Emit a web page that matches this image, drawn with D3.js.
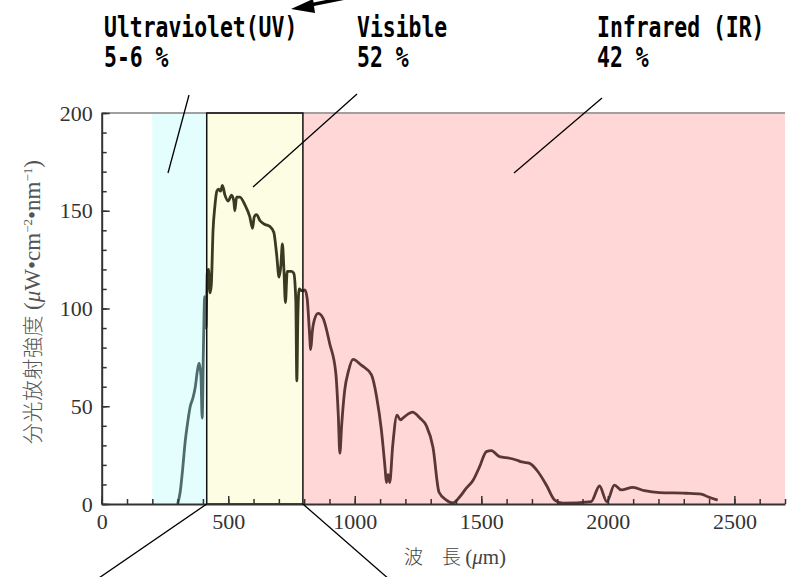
<!DOCTYPE html>
<html>
<head>
<meta charset="utf-8">
<script src="https://cdn.jsdelivr.net/npm/d3@7"></script>
<style>
  html, body { margin: 0; padding: 0; background: #fff; }
  svg { display: block; }
</style>
</head>
<body>
<svg id="chart" width="792" height="577"></svg>
<script>
// wavelength (x) and spectral irradiance (y)
const wavelength = [300,310,320,330,340,350,360,370,378,385,392,397,402,407,412,417,422,428,433,440,447,455,462,470,477,487,500,513,522,526,533,546,566,585,596,603,612,625,645,664,680,691,701,708,714,720,726,733,750,759,767,771,775,780,793,
  803,812,820,826,832,840,855,875,901,925,935,941,948,960,975,993,1026,1066,1086,1105,1120,1125,1132,1138,1150,1167,1180,1191,1210,1228,1257,1283,1309,1333,1362,1388,1415,1440,1467,1493,1520,1540,1572,1612,1638,1660,1691,1724,1757,1790,1822,1934,1967,1996,2026,2053,2099,2145,2204,2309,2369,2395,2434];
const irradiance = [0,6,18,32,42,50,54,60,68,72,66,44,80,106,90,118,120,108,112,140,152,160,161,160,163,158,155,158,155,150,157,157,153,147,141,147,148,145,143,142,139,128,116,122,133,120,103,119,119,118,104,63,95,110,109,
  109.5,105,90,79,88,94,97.5,95,82,67,45,26,40,58,68,74,71,66,55,38,18,11,15,11,30,45.5,43,44,46,47,44,40,29,6,2,0.5,3.7,8,12,19,26.8,27.3,24.2,23.4,22.5,21.5,20.8,16.5,9.7,2,0.4,1.2,9.2,1.2,9.7,7.2,8.5,6.8,5.8,5.5,5.1,3.7,2];

// spectral bands (wavelength ranges)
const bandNames  = ['UV', 'Visible', 'IR'];
const bandStart  = [200, 415, 795];
const bandEnd    = [415, 795, 2700];
const bandFill   = ['#e4fdfd', '#fdfde3', '#ffd7d7'];
const bandLine   = ['#4d6c6c', '#3a3a22', '#5a3636'];

// top annotation texts
const labelTitle = ['Ultraviolet(UV)', 'Visible', 'Infrared (IR)'];
const labelShare = ['5-6 %', '52 %', '42 %'];

const xMajor = [0, 500, 1000, 1500, 2000, 2500];
const yMajor = [0, 50, 100, 150, 200];

const svg = d3.select('#chart');
const X0 = 101.7, X1 = 785, Y0 = 504, Y1 = 113;

const x = d3.scaleLinear().domain([0, 2700]).range([X0, X1]);
const y = d3.scaleLinear().domain([0, 200]).range([Y0, Y1]);

// ── band rectangles ──────────────────────────────────────────────
const defs = svg.append('defs');
bandNames.forEach((b, i) => {
  defs.append('clipPath').attr('id', 'clip-' + b)
    .append('rect')
    .attr('x', x(bandStart[i])).attr('y', 0)
    .attr('width', x(bandEnd[i]) - x(bandStart[i])).attr('height', 577);
  svg.append('rect')
    .attr('x', x(bandStart[i])).attr('y', Y1)
    .attr('width', x(bandEnd[i]) - x(bandStart[i]))
    .attr('height', Y0 - Y1)
    .attr('fill', bandFill[i]);
});

// top frame line
svg.append('line')
  .attr('x1', X0).attr('x2', X1).attr('y1', Y1).attr('y2', Y1)
  .attr('stroke', '#a0a0a0').attr('stroke-width', 2);

// ── curve, coloured per band ─────────────────────────────────────
const pts = wavelength.map((w, i) => [w, irradiance[i]]);
const line = d3.line().x(d => x(d[0])).y(d => y(d[1])).curve(d3.curveMonotoneX);
bandNames.forEach((b, i) => {
  svg.append('path')
    .datum(pts)
    .attr('clip-path', `url(#clip-${b})`)
    .attr('fill', 'none')
    .attr('stroke', bandLine[i])
    .attr('stroke-width', 2.8)
    .attr('stroke-linejoin', 'round')
    .attr('d', line);
});

// visible box outline
svg.append('rect')
  .attr('x', x(bandStart[1])).attr('y', Y1)
  .attr('width', x(bandEnd[1]) - x(bandStart[1]))
  .attr('height', Y0 - Y1)
  .attr('fill', 'none').attr('stroke', '#111').attr('stroke-width', 1.5);

// ── axes ─────────────────────────────────────────────────────────
const axisStyle = g => {
  g.selectAll('path.domain').attr('stroke', '#333').attr('stroke-width', 2);
  g.selectAll('.tick line').attr('stroke', '#333').attr('stroke-width', 1.5);
  g.selectAll('text').attr('fill', '#333')
    .attr('font-family', '"Liberation Serif", "DejaVu Serif", serif')
    .attr('font-size', 22);
};

svg.append('g').attr('transform', `translate(0,${Y0})`)
  .call(d3.axisBottom(x).tickValues(d3.range(0, 2701, 100)).tickSize(-5).tickFormat('').tickSizeOuter(0))
  .call(axisStyle);
svg.append('g').attr('transform', `translate(0,${Y0})`)
  .call(d3.axisBottom(x).tickValues(xMajor).tickSize(-8).tickPadding(9).tickSizeOuter(0).tickFormat(d3.format('d')))
  .call(axisStyle)
  .call(g => g.select('path.domain').remove());

svg.append('g').attr('transform', `translate(${X0},0)`)
  .call(d3.axisLeft(y).tickValues(d3.range(0, 201, 10)).tickSize(-5).tickFormat('').tickSizeOuter(0))
  .call(axisStyle);
svg.append('g').attr('transform', `translate(${X0},0)`)
  .call(d3.axisLeft(y).tickValues(yMajor).tickSize(-8).tickPadding(9).tickSizeOuter(0))
  .call(axisStyle)
  .call(g => g.select('path.domain').remove());

// axis titles
const yTitle = svg.append('text')
  .attr('transform', 'translate(40,302) rotate(-90)')
  .attr('text-anchor', 'middle')
  .attr('fill', '#555')
  .attr('font-family', '"Liberation Serif", "Noto Sans CJK JP", serif')
  .attr('font-size', 23);
yTitle.append('tspan').attr('font-family', '"Noto Sans CJK JP", sans-serif').attr('font-weight', 300)
  .attr('font-size', 21).attr('letter-spacing', 0.5).text('分光放射強度 ');
yTitle.append('tspan').text('(');
yTitle.append('tspan').attr('font-style', 'italic').text('μ');
yTitle.append('tspan').text('W•cm');
yTitle.append('tspan').attr('font-size', 13).attr('dy', -8).text('−2');
yTitle.append('tspan').attr('dy', 8).text('•nm');
yTitle.append('tspan').attr('font-size', 13).attr('dy', -8).text('−1');
yTitle.append('tspan').attr('dy', 8).text(')');

const xTitle = svg.append('text')
  .attr('x', 455).attr('y', 564)
  .attr('text-anchor', 'middle')
  .attr('fill', '#444')
  .attr('font-family', '"Liberation Serif", serif')
  .attr('font-size', 21);
xTitle.append('tspan').attr('font-family', '"Noto Sans CJK JP", sans-serif').attr('font-weight', 300)
  .attr('font-size', 19).text('波　長 ');
xTitle.append('tspan').text('(');
xTitle.append('tspan').attr('font-style', 'italic').text('μ');
xTitle.append('tspan').text('m)');

// ── top annotations (narrow monospace: squeeze horizontally) ─────
const labelX = [104, 357, 597];
labelTitle.forEach((t, i) => {
  [t, labelShare[i]].forEach((s, j) => {
    svg.append('text')
      .attr('transform', `translate(${labelX[i]},${j === 0 ? 37 : 67}) scale(0.765,1)`)
      .attr('font-family', '"DejaVu Sans Mono", monospace')
      .attr('font-weight', 'bold')
      .attr('font-size', 28)
      .attr('fill', '#000')
      .text(s);
  });
});

// leader lines from labels into the bands
const leaders = [
  [189, 95, 168, 173],
  [357, 94, 253, 187],
  [602, 98, 514, 173],
  [x(bandStart[1]), Y0, 96, 580],
  [x(bandEnd[1]), Y0, 390, 580]
];
leaders.forEach(l => {
  svg.append('line')
    .attr('x1', l[0]).attr('y1', l[1]).attr('x2', l[2]).attr('y2', l[3])
    .attr('stroke', '#000').attr('stroke-width', 1.3);
});

// arrow at top edge
svg.append('line')
  .attr('x1', 345).attr('y1', -2).attr('x2', 305).attr('y2', 6)
  .attr('stroke', '#000').attr('stroke-width', 3.5);
svg.append('path')
  .attr('d', 'M291,9 L313,-1 L315,13 Z')
  .attr('fill', '#000');
</script>
</body>
</html>
